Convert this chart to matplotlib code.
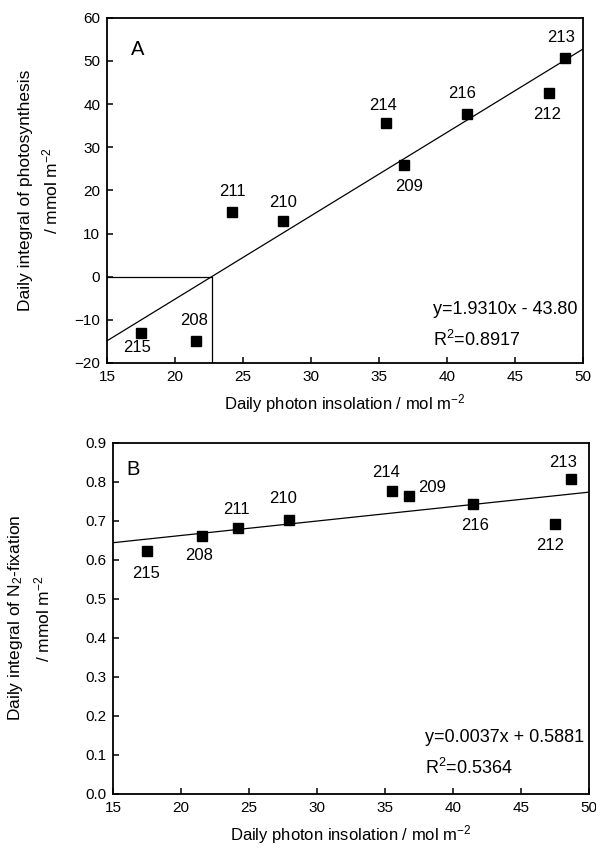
"""Two-panel regression figure: daily photosynthesis and N2-fixation vs photon insolation."""
import matplotlib as mpl
import matplotlib.pyplot as plt
import numpy as np

mpl.rcParams.update({
    "font.family": ["Liberation Sans", "DejaVu Sans"],
    "mathtext.fontset": "custom",
    "mathtext.rm": "Liberation Sans",
    "mathtext.it": "Liberation Sans",
    "axes.linewidth": 1.3,
})

# day labels (same order in both panels)
days = ["215", "208", "211", "210", "214", "209", "216", "212", "213"]
# daily photon insolation / mol m-2
insolation = [17.5, 21.5, 24.2, 27.9, 35.5, 36.8, 41.5, 47.5, 48.7]
# panel A: daily integral of photosynthesis / mmol m-2
photosynthesis = [-13.0, -14.8, 15.1, 12.8, 35.6, 25.8, 37.6, 42.5, 50.6]
# panel B: daily integral of N2-fixation / mmol m-2
n2_fixation = [0.622, 0.661, 0.681, 0.703, 0.777, 0.762, 0.742, 0.692, 0.806]

fit_a = (1.9310, -43.80, 0.8917)
fit_b = (0.0037, 0.5881, 0.5364)

# label offsets in pixels (dx, dy) relative to each point
offs_a = [(-4, -15), (-2, 20), (0, 20), (0, 19), (-3, 18), (6, -21), (-5, 21), (-2, -21), (-4, 21)]
offs_b = [(-1, -22), (-3, -20), (-2, 19), (-5, 21), (-6, 18), (23, 9), (2, -21), (-5, -22), (-8, 17)]

fig = plt.figure(figsize=(5.96, 8.48), dpi=100)
ax_a = fig.add_axes([0.180, 0.572, 0.798, 0.407])
ax_b = fig.add_axes([0.190, 0.064, 0.798, 0.414])

xline = np.array([15, 50])


def style(ax):
    ax.tick_params(direction="in", length=4, width=1.1, labelsize=11, pad=5)
    ax.set_xlim(15, 50)
    ax.set_xticks(range(15, 51, 5))


for ax, ys, offs, fit in [(ax_a, photosynthesis, offs_a, fit_a), (ax_b, n2_fixation, offs_b, fit_b)]:
    slope, icpt, r2 = fit
    ax.plot(xline, slope * xline + icpt, color="black", linewidth=0.9)
    ax.plot(insolation, ys, "s", color="black", markersize=6.5)
    for d, x, y, (dx, dy) in zip(days, insolation, ys, offs):
        ax.annotate(d, (x, y), xytext=(dx, dy), textcoords="offset pixels",
                    ha="center", va="center", fontsize=12)
    style(ax)

# panel A
ax_a.set_ylim(-20, 60)
ax_a.set_yticks(range(-20, 61, 10))
x0 = -fit_a[1] / fit_a[0]
ax_a.plot([15, x0, x0], [0, 0, -20], color="black", linewidth=0.9)
ax_a.text(0.063, 0.907, "A", transform=ax_a.transAxes, fontsize=14.5, ha="center", va="center")
ax_a.text(0.684, 0.154, "y=1.9310x - 43.80", transform=ax_a.transAxes, fontsize=13, va="center")
ax_a.text(0.684, 0.067, "R$^2$=0.8917", transform=ax_a.transAxes, fontsize=13, va="center")
ax_a.set_ylabel("Daily integral of photosynthesis\n/ mmol m$^{-2}$", fontsize=12.5, linespacing=1.45)
ax_a.yaxis.set_label_coords(-0.098, 0.5)
ax_a.set_xlabel("Daily photon insolation / mol m$^{-2}$", fontsize=12, labelpad=6)

# panel B
ax_b.set_ylim(0, 0.9)
ax_b.set_yticks(np.arange(0, 0.91, 0.1))
ax_b.yaxis.set_major_formatter(mpl.ticker.FormatStrFormatter("%.1f"))
ax_b.text(0.042, 0.923, "B", transform=ax_b.transAxes, fontsize=14.5, ha="center", va="center")
ax_b.text(0.655, 0.16, "y=0.0037x + 0.5881", transform=ax_b.transAxes, fontsize=13, va="center")
ax_b.text(0.655, 0.074, "R$^2$=0.5364", transform=ax_b.transAxes, fontsize=13, va="center")
ax_b.set_ylabel("Daily integral of N$_2$-fixation\n/ mmol m$^{-2}$", fontsize=12.5, linespacing=1.45)
ax_b.yaxis.set_label_coords(-0.128, 0.5)
ax_b.set_xlabel("Daily photon insolation / mol m$^{-2}$", fontsize=12, labelpad=6)

fig.savefig("out.png", dpi=100)
